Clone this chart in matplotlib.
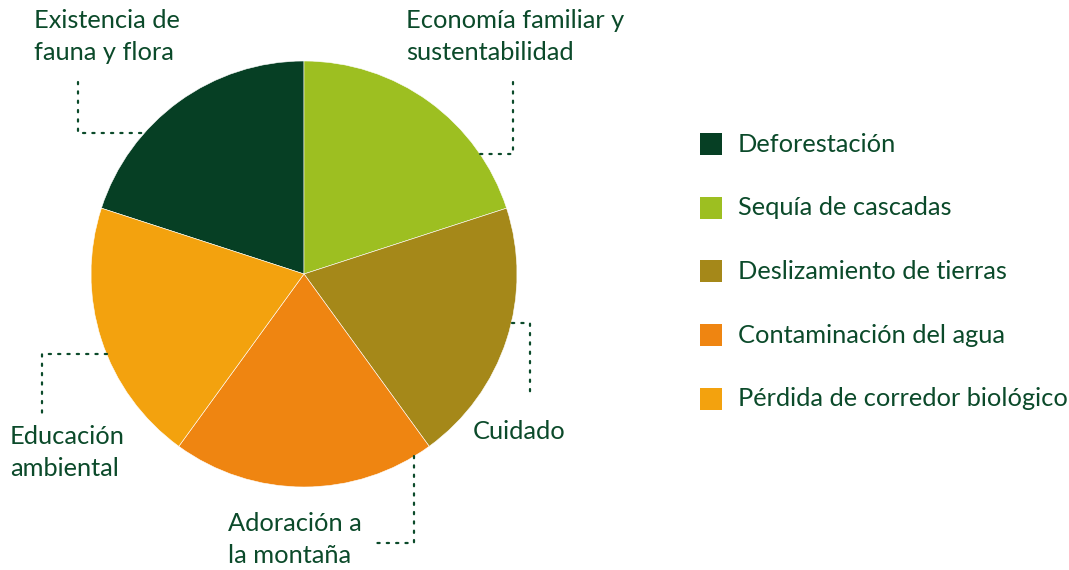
import matplotlib.pyplot as plt

# datos: cinco categorías con el mismo peso
categorias = ["Deforestación", "Sequía de cascadas", "Deslizamiento de tierras",
              "Contaminación del agua", "Pérdida de corredor biológico"]
valores = [20, 20, 20, 20, 20]
colores = ["#063f24", "#9dbf21", "#a58819", "#ef8511", "#f3a20e"]

# etiquetas externas: texto, posición (px) y trazo de la guía punteada (px)
etiquetas = ["Existencia de\nfauna y flora", "Economía familiar y\nsustentabilidad",
             "Cuidado", "Adoración a\nla montaña", "Educación\nambiental"]
pos_etiquetas = [(34, 9), (406, 9), (473, 420), (228, 512), (10, 425)]
guias = [
    [(78, 82), (78, 133), (142, 133)],
    [(513, 82), (513, 154), (480, 154)],
    [(512, 323), (530, 323), (530, 398)],
    [(414, 456), (414, 543), (375, 543)],
    [(107, 354), (42, 354), (42, 413)],
]

TXT = "#0b4a2a"
W, H = 1069, 570
plt.rcParams['font.family'] = ['Lato', 'DejaVu Sans']

fig = plt.figure(figsize=(W / 100, H / 100), dpi=100)
ax = fig.add_axes([0, 0, 1, 1])

wedges, _ = ax.pie(valores, colors=colores, startangle=162, counterclock=False,
                   center=(304, H - 274), radius=213, frame=True,
                   wedgeprops=dict(linewidth=0.4, edgecolor="white"))
ax.set_xlim(0, W)
ax.set_ylim(0, H)
ax.axis("off")

for txt, (x, y) in zip(etiquetas, pos_etiquetas):
    ax.text(x, H - y, txt, fontsize=18.3, color=TXT, ha="left", va="top",
            linespacing=1.45)

for g in guias:
    xs = [p[0] for p in g]
    ys = [H - p[1] for p in g]
    ax.plot(xs, ys, color=TXT, lw=1.6, linestyle=(0, (1, 3.2)),
            solid_capstyle="round", dash_capstyle="round")

# leyenda manual
y0, dy = 144, 63.7
for i, (cat, col) in enumerate(zip(categorias, colores)):
    yc = H - (y0 + i * dy)
    ax.add_patch(plt.Rectangle((700, yc - 11), 22, 22, color=col, lw=0))
    ax.text(738, yc, cat, fontsize=18.3, color=TXT, ha="left", va="center")

fig.savefig("out.png", dpi=100)
